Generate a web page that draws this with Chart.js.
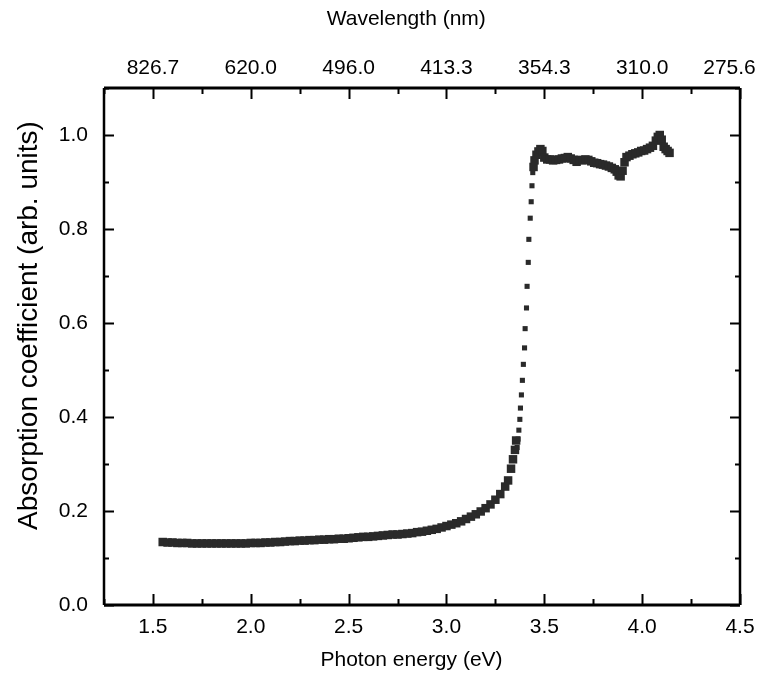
<!DOCTYPE html>
<html>
<head>
<meta charset="utf-8">
<script src="https://cdn.jsdelivr.net/npm/chart.js@4.4.0/dist/chart.umd.min.js"></script>
<style>
  html, body { margin: 0; padding: 0; background: #fff; }
  #wrap { width: 757px; height: 679px; }
</style>
</head>
<body>
<div id="wrap"><canvas id="chart"></canvas></div>
<script>
// photon energy (eV) / absorption, low-energy tail up to the knee
const tailEnergy = [
  1.55, 1.575, 1.60, 1.625, 1.65, 1.675, 1.70, 1.725, 1.75, 1.775, 1.80, 1.825, 1.85, 1.875, 1.90, 1.925,
  1.95, 1.975, 2.00, 2.025, 2.05, 2.075, 2.10, 2.125, 2.15, 2.175, 2.20, 2.225, 2.25, 2.275, 2.30, 2.325,
  2.35, 2.375, 2.40, 2.425, 2.45, 2.475, 2.50, 2.525, 2.55, 2.575, 2.60, 2.625, 2.65, 2.675, 2.70, 2.725,
  2.75, 2.775, 2.80, 2.825, 2.85, 2.875, 2.90, 2.925, 2.95, 2.975, 3.00, 3.025, 3.05, 3.075, 3.10, 3.125,
  3.15, 3.175, 3.20, 3.225, 3.25, 3.275, 3.30, 3.315, 3.33, 3.34, 3.35, 3.356
];
const tailAbs = [
  0.134, 0.133, 0.133, 0.132, 0.132, 0.132, 0.131, 0.131, 0.131, 0.131, 0.131, 0.131, 0.131, 0.131, 0.131, 0.131,
  0.131, 0.131, 0.132, 0.132, 0.132, 0.133, 0.133, 0.134, 0.134, 0.135, 0.136, 0.136, 0.137, 0.137, 0.138, 0.138,
  0.139, 0.139, 0.140, 0.140, 0.141, 0.141, 0.142, 0.143, 0.144, 0.145, 0.145, 0.146, 0.147, 0.148, 0.149, 0.150,
  0.150, 0.151, 0.152, 0.153, 0.155, 0.156, 0.158, 0.160, 0.162, 0.165, 0.168, 0.171, 0.174, 0.178, 0.183, 0.188,
  0.193, 0.199, 0.206, 0.214, 0.224, 0.236, 0.252, 0.265, 0.290, 0.310, 0.330, 0.350
];

// the sparse points on the absorption edge
const edgeEnergy = [3.361, 3.366, 3.370, 3.375, 3.378, 3.383, 3.388, 3.393, 3.399, 3.402, 3.409, 3.412, 3.418, 3.421, 3.428, 3.433, 3.437, 3.441];
const edgeAbs    = [0.335, 0.353, 0.372, 0.395, 0.419, 0.447, 0.478, 0.512, 0.547, 0.588, 0.632, 0.678, 0.729, 0.778, 0.823, 0.858, 0.892, 0.920];

// plateau above the gap
const plateauEnergy = [
  3.445, 3.45, 3.46, 3.47, 3.48, 3.49, 3.50, 3.515, 3.53, 3.545, 3.56, 3.575, 3.59, 3.605, 3.62, 3.635,
  3.65, 3.665, 3.68, 3.695, 3.71, 3.725, 3.74, 3.755, 3.77, 3.785, 3.80, 3.815, 3.83, 3.845, 3.86, 3.87,
  3.88, 3.89, 3.90, 3.91, 3.92, 3.935, 3.95, 3.965, 3.98, 3.995, 4.01, 4.025, 4.04, 4.055, 4.07, 4.08,
  4.09, 4.10, 4.11, 4.12, 4.13, 4.14
];
const plateauAbs = [
  0.932, 0.946, 0.958, 0.965, 0.970, 0.966, 0.952, 0.948, 0.948, 0.946, 0.947, 0.948, 0.950, 0.951, 0.953, 0.950,
  0.947, 0.943, 0.947, 0.946, 0.948, 0.947, 0.944, 0.941, 0.940, 0.938, 0.937, 0.935, 0.933, 0.930, 0.927, 0.922,
  0.914, 0.912, 0.924, 0.942, 0.953, 0.956, 0.959, 0.961, 0.963, 0.966, 0.967, 0.970, 0.973, 0.977, 0.988, 0.996,
  1.000, 0.990, 0.975, 0.970, 0.966, 0.962
];

const energyTicks = [1.5, 2.0, 2.5, 3.0, 3.5, 4.0, 4.5];
const wavelengthLabels = ['826.7', '620.0', '496.0', '413.3', '354.3', '310.0', '275.6'];
const absTicks = [0.0, 0.2, 0.4, 0.6, 0.8, 1.0];

const pts = (xs, ys) => xs.map((x, i) => ({ x: x, y: ys[i] }));
const ink = '#2a2a2a';
const font = 'Liberation Sans, Arial, sans-serif';
// the original titles/labels sit a little off-centre; pad with spaces to nudge them
const EM = '\u2003', EN = '\u2002';

// inward ticks on all four sides plus the frame
const frameTicks = {
  id: 'frameTicks',
  afterDraw(chart) {
    const { ctx, chartArea: a, scales } = chart;
    const x = scales.x, y = scales.y;
    ctx.save();
    ctx.strokeStyle = '#000';
    ctx.lineWidth = 2;
    ctx.beginPath();
    for (let i = 0; i <= 13; i++) {
      const v = 1.25 + i * 0.25;
      const px = Math.round(x.getPixelForValue(v)) + 0.5;
      const len = (i % 2 === 1) ? 11 : 6;
      ctx.moveTo(px, a.bottom); ctx.lineTo(px, a.bottom - len);
      ctx.moveTo(px, a.top); ctx.lineTo(px, a.top + len);
    }
    for (let i = 0; i <= 11; i++) {
      const v = i * 0.1;
      const py = Math.round(y.getPixelForValue(v)) + 0.5;
      const len = (i % 2 === 0) ? 10 : 5;
      ctx.moveTo(a.left, py); ctx.lineTo(a.left + len, py);
      ctx.moveTo(a.right, py); ctx.lineTo(a.right - len, py);
    }
    ctx.stroke();
    ctx.lineWidth = 3;
    ctx.beginPath();
    ctx.moveTo(a.left, a.top); ctx.lineTo(a.right, a.top);
    ctx.moveTo(a.left, a.bottom); ctx.lineTo(a.right, a.bottom);
    ctx.stroke();
    ctx.lineWidth = 2.5;
    ctx.beginPath();
    ctx.moveTo(a.left, a.top); ctx.lineTo(a.left, a.bottom);
    ctx.moveTo(a.right, a.top); ctx.lineTo(a.right, a.bottom);
    ctx.stroke();
    ctx.restore();
  }
};

const noGrid = { display: false, drawTicks: false };

new Chart(document.getElementById('chart'), {
  type: 'scatter',
  data: {
    datasets: [
      { label: 'tail', data: pts(tailEnergy, tailAbs), pointStyle: 'rect', pointRadius: 6, backgroundColor: ink, borderWidth: 0 },
      { label: 'edge', data: pts(edgeEnergy, edgeAbs), pointStyle: 'rect', pointRadius: 3.6, backgroundColor: ink, borderWidth: 0 },
      { label: 'plateau', data: pts(plateauEnergy, plateauAbs), pointStyle: 'rect', pointRadius: 6, backgroundColor: ink, borderWidth: 0 }
    ]
  },
  options: {
    responsive: true,
    maintainAspectRatio: false,
    animation: false,
    layout: { padding: { top: 7, bottom: 6, left: 12, right: 17 } },
    plugins: { legend: { display: false }, tooltip: { enabled: false } },
    scales: {
      x: {
        type: 'linear', position: 'bottom', min: 1.25, max: 4.5,
        grid: noGrid, border: { display: false },
        afterBuildTicks: s => { s.ticks = energyTicks.map(v => ({ value: v })); },
        afterFit: s => { s.height = 68; s.paddingLeft = 0; s.paddingRight = 0; },
        ticks: { padding: 10, color: '#000', font: { family: font, size: 21 }, callback: v => v.toFixed(1) },
        title: { display: true, text: 'Photon energy (eV)' + EM, color: '#000', font: { family: font, size: 21 }, padding: 0 }
      },
      x2: {
        type: 'linear', position: 'top', min: 1.25, max: 4.5,
        grid: noGrid, border: { display: false },
        afterBuildTicks: s => { s.ticks = energyTicks.map(v => ({ value: v })); },
        afterFit: s => { s.height = 81; s.paddingLeft = 0; s.paddingRight = 0; },
        ticks: {
          padding: 7, color: '#000', font: { family: font, size: 21 },
          callback: (v, i) => i === wavelengthLabels.length - 1 ? wavelengthLabels[i] + EN + EN : wavelengthLabels[i]
        },
        title: { display: true, text: 'Wavelength (nm)' + EM + EN, color: '#000', font: { family: font, size: 21 }, padding: 0 }
      },
      y: {
        type: 'linear', position: 'left', min: 0, max: 1.1,
        grid: noGrid, border: { display: false },
        afterBuildTicks: s => { s.ticks = absTicks.map(v => ({ value: v })); },
        afterFit: s => { s.width = 92; s.paddingTop = 0; s.paddingBottom = 0; },
        ticks: { padding: 16, color: '#000', font: { family: font, size: 21 }, callback: v => v.toFixed(1) },
        title: { display: true, text: EM + EN + 'Absorption coefficient (arb. units)', color: '#000', font: { family: font, size: 28 }, padding: 0 }
      }
    }
  },
  plugins: [frameTicks]
});
</script>
</body>
</html>
